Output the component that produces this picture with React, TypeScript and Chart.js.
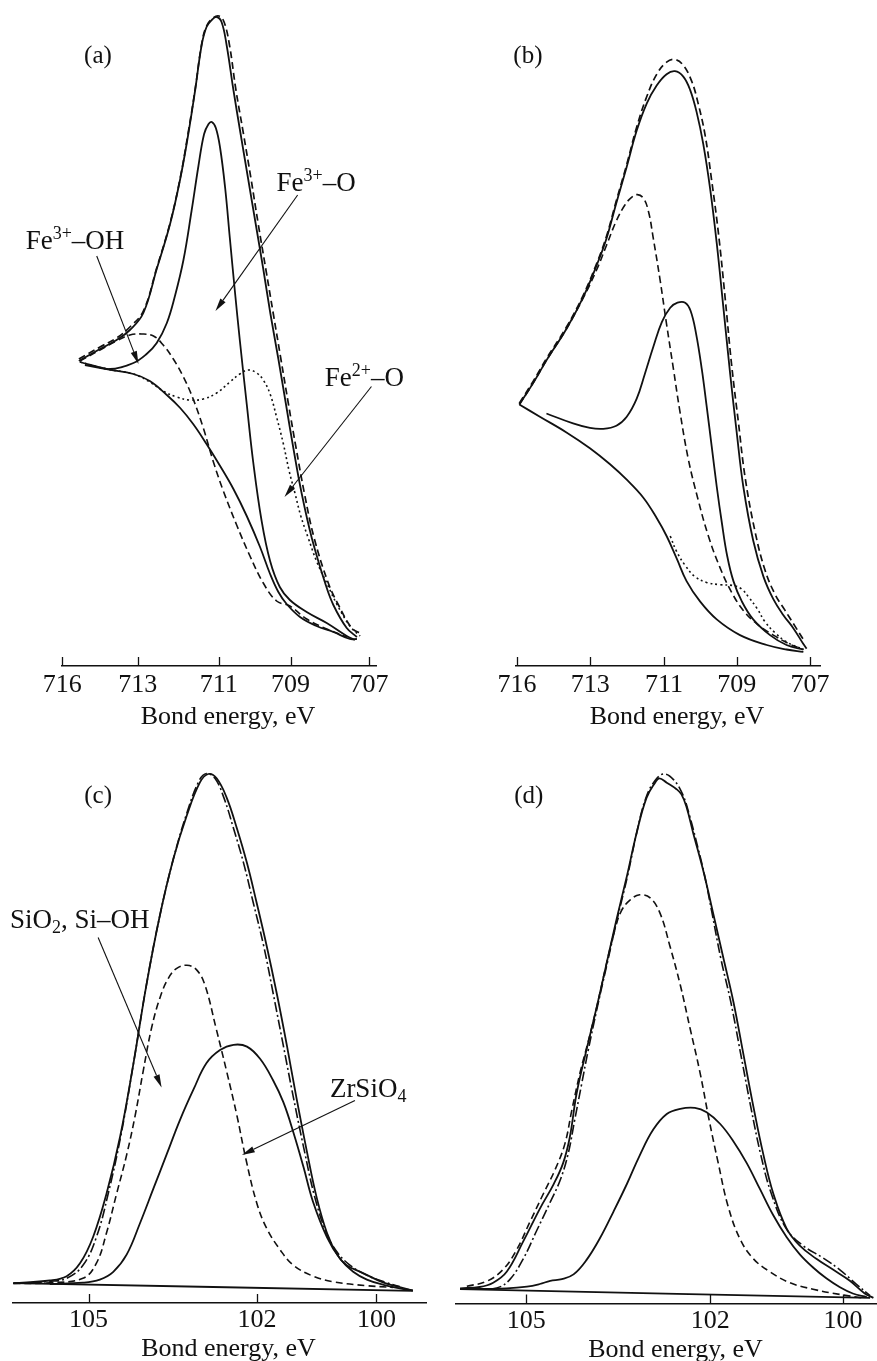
import React, { useEffect, useRef } from "react";
import { Chart, LineController, LineElement, PointElement, LinearScale } from "chart.js";

const FONT = '"Liberation Serif", "Times New Roman", "DejaVu Serif", serif';
const INK = "#111";

// ---------- Panel (a): Fe 2p, bond energy (eV) vs intensity (a.u.) ----------
const ticksA = [716, 713, 711, 709, 707];
const envA = [[715.34,30.5],[714.50,31.7],[713.84,32.6],[713.31,33.6],[712.86,35.3],[712.53,39.7],[712.20,44.2],[711.95,48.7],[711.75,53.2],[711.58,57.6],[711.42,62.1],[711.30,63.9],[711.17,64.6],[711.05,64.9],[710.92,64.4],[710.78,62.1],[710.59,57.6],[710.39,53.2],[710.18,48.7],[709.97,44.2],[709.76,39.7],[709.56,35.2],[709.34,30.7],[709.13,26.2],[708.93,21.8],[708.72,17.3],[708.46,12.8],[708.12,8.3],[707.91,6.1],[707.57,3.8],[707.31,2.9]];
const expA = [[715.34,30.7],[714.50,31.9],[713.84,32.8],[713.31,33.9],[712.86,35.5],[712.53,39.8],[712.20,44.3],[711.95,48.8],[711.75,53.4],[711.58,57.7],[711.42,62.2],[711.30,64.0],[711.14,64.8],[710.99,65.0],[710.85,64.4],[710.70,62.1],[710.52,57.6],[710.31,53.2],[710.10,48.7],[709.90,44.2],[709.69,39.7],[709.48,35.2],[709.27,30.7],[709.06,26.2],[708.86,21.8],[708.65,17.3],[708.40,12.8],[708.04,8.3],[707.78,6.1],[707.44,3.8],[707.19,3.2]];
const bgA = [[715.30,30.4],[714.24,29.7],[713.17,29.2],[712.70,28.5],[712.28,27.1],[711.95,25.8],[711.63,24.2],[711.30,22.2],[710.96,20.0],[710.59,17.7],[710.22,15.0],[709.85,11.9],[709.57,9.2],[709.34,7.4],[709.11,6.2],[708.76,4.9],[708.34,4.0],[707.91,3.4],[707.49,2.7],[707.31,2.7]];
const fe3oA = [[715.10,30.1],[714.10,29.7],[713.17,30.3],[712.78,31.2],[712.53,32.3],[712.28,34.3],[712.08,37.0],[711.87,40.6],[711.67,45.5],[711.50,50.0],[711.36,53.2],[711.25,54.2],[711.17,54.4],[711.07,53.8],[710.96,51.8],[710.82,47.8],[710.69,42.8],[710.55,37.5],[710.41,32.5],[710.22,26.2],[710.04,20.4],[709.81,14.6],[709.57,10.5],[709.30,7.9],[709.02,6.6],[708.59,5.4],[708.08,4.3],[707.57,3.0],[707.36,2.6]];
const fe3ohA = [[715.30,30.5],[714.50,31.6],[713.84,32.5],[713.31,33.1],[712.90,33.2],[712.61,33.0],[712.37,32.1],[712.12,30.7],[711.87,28.9],[711.63,26.7],[711.38,23.8],[711.13,20.4],[710.87,17.5],[710.50,14.1],[710.13,11.0],[709.76,8.3],[709.39,6.5],[709.02,6.0],[708.59,4.7],[708.08,3.7],[707.57,2.9]];
const fe2oA = [[715.30,30.4],[714.24,29.7],[713.17,29.2],[712.70,28.4],[712.37,27.5],[712.04,26.9],[711.71,26.6],[711.38,26.7],[711.05,27.3],[710.69,28.4],[710.41,29.2],[710.18,29.6],[709.94,29.3],[709.76,28.6],[709.57,27.2],[709.39,24.9],[709.20,22.2],[709.04,19.5],[708.89,17.3],[708.74,15.0],[708.55,12.8],[708.34,10.5],[708.08,8.3],[707.81,6.1],[707.49,4.0],[707.23,3.0]];
const notesA = [
  { parts: [["Fe", 0], ["3+", 1], ["–OH", 0]], at: [717.46, 41.7] },
  { parts: [["Fe", 0], ["3+", 1], ["–O", 0]], at: [709.39, 47.55] },
  { parts: [["Fe", 0], ["2+", 1], ["–O", 0]], at: [708.13, 28.0] },
];
const arrowsA = [[714.63, 41.0, 712.98, 30.2], [708.82, 47.1, 711.08, 35.5], [706.94, 27.95, 709.17, 16.9]];

// ---------- Panel (b) ----------
const ticksB = [716, 713, 711, 709, 707];
const envB = [[715.90,26.15],[715.33,28.31],[714.79,30.56],[713.97,33.72],[713.29,36.87],[712.83,40.02],[712.56,42.73],[712.29,46.33],[712.01,49.93],[711.74,53.54],[711.47,56.24],[711.20,58.04],[710.93,59.17],[710.70,59.48],[710.47,58.94],[710.28,57.59],[710.10,55.34],[709.92,52.19],[709.73,47.68],[709.55,42.28],[709.37,35.97],[709.18,29.21],[709.00,23.36],[708.82,17.95],[708.55,12.55],[708.27,8.94],[708.00,6.69],[707.73,5.11],[707.45,3.76],[707.18,2.19],[707.09,1.74]];
const expB = [[715.90,26.28],[715.33,28.49],[714.79,30.74],[713.97,33.9],[713.29,37.05],[712.83,40.2],[712.56,42.95],[712.29,46.55],[712.01,50.16],[711.74,53.9],[711.47,56.92],[711.20,59.17],[710.93,60.38],[710.70,60.65],[710.47,60.07],[710.24,58.49],[710.06,56.24],[709.87,53.09],[709.69,48.58],[709.50,43.18],[709.32,36.87],[709.14,30.11],[708.95,24.26],[708.77,18.85],[708.50,13.45],[708.23,9.62],[707.95,7.14],[707.68,5.56],[707.41,3.99],[707.14,2.41]];
const bgB = [[715.90,26.15],[715.06,24.93],[713.97,23.36],[713.01,21.78],[712.47,20.20],[712.01,18.63],[711.56,16.83],[711.20,14.80],[710.93,13.0],[710.65,10.74],[710.38,8.49],[710.01,6.46],[709.55,4.66],[708.91,3.09],[708.18,2.1],[707.64,1.65],[707.18,1.42]];
const fe3oB = [[714.79,25.25],[713.70,24.26],[713.01,23.81],[712.65,23.72],[712.29,24.03],[712.01,24.93],[711.74,26.74],[711.52,29.21],[711.29,31.92],[711.06,34.39],[710.83,35.83],[710.63,36.33],[710.42,36.33],[710.27,35.52],[710.12,33.27],[709.96,29.66],[709.83,26.06],[709.69,22.01],[709.55,17.95],[709.41,14.35],[709.26,10.97],[709.09,8.49],[708.86,6.46],[708.55,4.66],[708.09,3.09],[707.64,2.1],[707.18,1.65]];
const fe3ohB = [[715.90,26.15],[715.33,28.31],[714.79,30.56],[713.97,33.72],[713.29,36.78],[712.83,39.57],[712.56,42.05],[712.29,44.53],[712.06,46.1],[711.88,46.87],[711.72,47.14],[711.56,46.78],[711.42,45.43],[711.29,42.73],[711.11,38.67],[710.93,34.17],[710.74,29.66],[710.56,25.38],[710.33,20.65],[710.06,16.6],[709.78,13.0],[709.46,9.84],[709.14,7.37],[708.82,5.56],[708.45,4.21],[708.00,3.09],[707.55,2.19],[707.18,1.65]];
const fe2oB = [[710.83,13.0],[710.65,11.42],[710.42,10.07],[710.15,8.94],[709.83,8.36],[709.46,8.13],[709.09,8.04],[708.86,7.68],[708.68,6.92],[708.45,5.79],[708.23,4.44],[707.95,3.31],[707.64,2.41],[707.18,1.65]];

// ---------- Panel (c): Si 2p ----------
const ticksC = [105, 102, 100];
const envC = [[106.34,1.99],[105.69,2.25],[105.39,2.68],[105.15,3.99],[104.92,6.60],[104.68,10.95],[104.44,16.60],[104.20,23.99],[103.97,31.82],[103.73,38.77],[103.49,44.42],[103.25,48.77],[103.02,52.03],[102.87,52.90],[102.72,52.47],[102.54,50.51],[102.36,47.47],[102.18,43.99],[102.01,40.08],[101.84,35.73],[101.67,30.95],[101.50,25.73],[101.34,20.51],[101.17,15.29],[101.00,10.51],[100.83,7.03],[100.66,4.86],[100.50,3.77],[100.27,3.12],[99.88,2.03],[99.61,1.60],[99.39,1.25]];
const expC = [[106.34,1.95],[105.69,2.16],[105.39,2.47],[105.10,3.77],[104.86,6.60],[104.65,10.95],[104.43,16.60],[104.20,23.99],[103.97,31.82],[103.73,38.77],[103.49,44.42],[103.25,49.0],[103.03,52.25],[102.90,52.95],[102.75,52.47],[102.59,50.51],[102.42,47.47],[102.24,43.99],[102.07,40.08],[101.89,35.73],[101.73,30.95],[101.56,25.73],[101.39,20.51],[101.21,15.29],[101.03,10.51],[100.84,7.03],[100.66,5.10],[100.44,3.77],[100.16,2.77],[99.83,2.03],[99.61,1.65]];
const sioC = [[106.34,1.95],[105.69,2.03],[105.10,2.47],[104.86,3.99],[104.68,7.03],[104.50,10.95],[104.32,14.86],[104.17,18.77],[104.03,23.12],[103.88,27.47],[103.73,30.51],[103.58,32.47],[103.43,33.47],[103.25,33.77],[103.08,33.34],[102.93,31.82],[102.73,27.47],[102.54,23.12],[102.36,18.77],[102.20,14.42],[102.01,10.08],[101.84,7.47],[101.61,5.29],[101.39,3.77],[101.06,2.68],[100.72,2.12],[100.16,1.73],[99.72,1.56]];
const zrC = [[105.69,1.90],[105.10,2.03],[104.80,2.34],[104.56,3.12],[104.32,4.86],[104.09,7.90],[103.85,11.38],[103.61,14.86],[103.37,18.34],[103.13,21.38],[102.90,23.99],[102.66,25.29],[102.42,25.82],[102.18,25.64],[101.95,24.42],[101.73,22.25],[101.56,20.08],[101.39,17.03],[101.22,13.55],[101.06,10.08],[100.83,6.60],[100.61,4.42],[100.39,3.12],[100.16,2.34],[99.88,1.82],[99.61,1.47],[99.39,1.25]];
const bgC = [[106.34,1.99],[99.39,1.21]];
const notesC = [
  { parts: [["SiO", 0], ["2", -1], [", Si–OH", 0]], at: [106.40, 37.5] },
  { parts: [["ZrSiO", 0], ["4", -1]], at: [100.78, 20.6] },
];
const arrowsC = [[104.83, 36.55, 103.70, 21.55], [100.36, 20.24, 102.27, 14.8]];

// ---------- Panel (d) ----------
const ticksD = [105, 102, 100];
const envD = [[106.08,1.52],[105.76,1.65],[105.54,2.08],[105.32,3.17],[105.05,6.21],[104.78,9.47],[104.56,11.87],[104.40,14.04],[104.29,16.65],[104.18,21.00],[104.02,25.34],[103.85,29.69],[103.69,34.04],[103.53,38.39],[103.36,42.73],[103.20,47.08],[103.04,50.56],[102.90,52.08],[102.83,52.52],[102.71,52.08],[102.55,51.43],[102.47,50.91],[102.39,49.69],[102.28,47.08],[102.11,43.17],[101.95,38.82],[101.80,34.47],[101.65,30.13],[101.50,24.91],[101.35,19.69],[101.20,14.91],[101.05,11.00],[100.85,7.52],[100.65,5.78],[100.40,4.47],[100.15,3.39],[99.90,2.30],[99.67,1.00],[99.54,0.56]];
const expD = [[105.86,1.43],[105.48,1.56],[105.27,2.39],[105.05,4.47],[104.83,7.3],[104.61,10.13],[104.45,12.30],[104.32,14.91],[104.21,18.39],[104.10,21.87],[103.99,25.34],[103.84,29.69],[103.68,34.04],[103.52,38.39],[103.35,42.73],[103.20,47.08],[103.05,50.56],[102.90,52.30],[102.76,52.95],[102.60,52.39],[102.45,50.91],[102.34,48.82],[102.21,45.78],[102.09,42.73],[101.98,39.26],[101.84,34.47],[101.69,30.13],[101.54,24.91],[101.39,19.69],[101.24,14.91],[101.08,11.00],[100.85,7.43],[100.60,5.78],[100.30,4.56],[100.05,3.39],[99.80,1.95],[99.59,0.78]];
const sioD = [[105.97,1.73],[105.65,2.21],[105.38,3.39],[105.16,5.34],[104.94,8.17],[104.72,11.00],[104.53,13.39],[104.37,15.99],[104.26,19.26],[104.12,23.17],[103.99,26.21],[103.85,29.69],[103.69,34.04],[103.55,37.52],[103.45,39.26],[103.31,40.34],[103.15,40.87],[102.98,40.56],[102.82,39.04],[102.66,35.78],[102.49,31.87],[102.33,27.52],[102.17,23.17],[102.02,18.39],[101.88,14.04],[101.73,9.69],[101.55,6.43],[101.35,4.47],[101.10,3.17],[100.80,2.08],[100.45,1.43],[100.05,0.91],[99.70,0.56]];
const zrD = [[106.08,1.43],[105.32,1.52],[104.99,1.69],[104.78,1.95],[104.61,2.26],[104.42,2.43],[104.23,2.91],[104.02,4.34],[103.80,6.52],[103.58,9.17],[103.36,11.95],[103.15,14.82],[102.93,17.39],[102.71,18.95],[102.49,19.47],[102.25,19.56],[102.06,19.13],[101.85,17.95],[101.65,16.21],[101.45,14.04],[101.25,11.43],[101.05,8.82],[100.85,6.65],[100.65,4.91],[100.45,3.60],[100.25,2.52],[100.05,1.65],[99.85,1.00],[99.64,0.65]];
const bgD = [[106.08,1.43],[99.59,0.56]];

const X_TITLE = "Bond energy, eV";

// ---------- custom piecewise-linear axis (tick positions as drawn in the figure) ----------
class KnotScale extends LinearScale {
  static id = "knot";
  static defaults = {};
  decFor(v: number) {
    const vals = this.options.knotValues as number[];
    const fr = this.options.knotFracs as number[];
    let i = 0;
    const n = vals.length;
    const desc = vals[0] > vals[n - 1];
    while (i < n - 2 && (desc ? v < vals[i + 1] : v > vals[i + 1])) i++;
    const t = (v - vals[i]) / (vals[i + 1] - vals[i]);
    return fr[i] + t * (fr[i + 1] - fr[i]);
  }
  valFor(d: number) {
    const vals = this.options.knotValues as number[];
    const fr = this.options.knotFracs as number[];
    let i = 0;
    const n = fr.length;
    while (i < n - 2 && d > fr[i + 1]) i++;
    const t = (d - fr[i]) / (fr[i + 1] - fr[i]);
    return vals[i] + t * (vals[i + 1] - vals[i]);
  }
  determineDataLimits() {
    const a = this.valFor(0), b = this.valFor(1);
    this.min = Math.min(a, b);
    this.max = Math.max(a, b);
  }
  buildTicks() {
    return (this.options.tickValues as number[]).map((v) => ({ value: v }));
  }
  getPixelForValue(value: number) {
    if (value === null || value === undefined || isNaN(value)) return NaN;
    return this.getPixelForDecimal(this.decFor(value));
  }
  getValueForPixel(pixel: number) {
    return this.valFor(this.getDecimalForPixel(pixel));
  }
}

Chart.register(LineController, LineElement, PointElement, LinearScale, KnotScale);

type Style = "solid" | "dash" | "dot" | "dashdot";
const DASH: Record<Style, number[]> = { solid: [], dash: [7, 4], dot: [2, 3], dashdot: [10, 3, 2, 3] };

const panels = [
  {
    key: "a", box: { left: 0, top: 0, width: 438, height: 730 }, area: { left: 62, right: 376, bottom: 666 },
    tickPad: 4, titleDy: 58,
    ticks: ticksA, knotValues: ticksA, knotFracs: [0.001, 0.241, 0.499, 0.728, 0.978],
    letter: "(a)", letterAt: [714.58, 60.3],
    series: [[expA, "dash", 1.7], [envA, "solid", 1.8], [bgA, "solid", 1.8], [fe3oA, "solid", 1.8], [fe3ohA, "dash", 1.6], [fe2oA, "dot", 1.6]],
    notes: notesA, arrows: arrowsA,
  },
  {
    key: "b", box: { left: 438, top: 0, width: 439, height: 730 }, area: { left: 78, right: 382, bottom: 666 },
    tickPad: 4, titleDy: 58,
    ticks: ticksB, knotValues: ticksB, knotFracs: [0.003, 0.244, 0.487, 0.726, 0.967],
    letter: "(b)", letterAt: [715.55, 60.3],
    series: [[expB, "dash", 1.7], [envB, "solid", 1.8], [bgB, "solid", 1.8], [fe3oB, "solid", 1.8], [fe3ohB, "dash", 1.6], [fe2oB, "dot", 1.6]],
    notes: [], arrows: [],
  },
  {
    key: "c", box: { left: 0, top: 730, width: 438, height: 631 }, area: { left: 13, right: 426, bottom: 573 },
    tickPad: 2, titleDy: 53,
    ticks: ticksC, knotValues: ticksC, knotFracs: [0.183, 0.591, 0.880],
    letter: "(c)", letterAt: [104.83, 50.05],
    series: [[expC, "dashdot", 1.6], [envC, "solid", 1.8], [sioC, "dash", 1.6], [zrC, "solid", 1.8], [bgC, "solid", 1.8]],
    notes: notesC, arrows: arrowsC,
  },
  {
    key: "d", box: { left: 438, top: 730, width: 439, height: 631 }, area: { left: 18, right: 439, bottom: 573.5 },
    tickPad: 2, titleDy: 53,
    ticks: ticksD, knotValues: ticksD, knotFracs: [0.167, 0.604, 0.919],
    letter: "(d)", letterAt: [104.96, 50.1],
    series: [[expD, "dashdot", 1.6], [envD, "solid", 1.8], [sioD, "dash", 1.6], [zrD, "solid", 1.8], [bgD, "solid", 1.8]],
    notes: [], arrows: [],
  },
];

const TICK_SIZE = 26;
const TITLE_SIZE = 26;
const LETTER_SIZE = 25;
const NOTE_SIZE = 27;
const SCALE_H = 40;

function drawRich(ctx: CanvasRenderingContext2D, parts: any[], x: number, y: number, size: number) {
  let cx = x;
  for (const [txt, mode] of parts) {
    const s = mode === 0 ? size : Math.round(size * 0.68);
    ctx.font = `${s}px ${FONT}`;
    const dy = mode === 1 ? -size * 0.37 : mode === -1 ? size * 0.2 : 0;
    ctx.fillText(txt, cx, y + dy);
    cx += ctx.measureText(txt).width;
  }
}

function drawArrow(ctx: CanvasRenderingContext2D, x1: number, y1: number, x2: number, y2: number) {
  const a = Math.atan2(y2 - y1, x2 - x1);
  const L = 13, W = 3.2;
  const bx = x2 - L * Math.cos(a), by = y2 - L * Math.sin(a);
  ctx.lineWidth = 1.1;
  ctx.beginPath();
  ctx.moveTo(x1, y1);
  ctx.lineTo(bx, by);
  ctx.stroke();
  ctx.beginPath();
  ctx.moveTo(x2, y2);
  ctx.lineTo(bx - W * Math.sin(a), by + W * Math.cos(a));
  ctx.lineTo(bx + W * Math.sin(a), by - W * Math.cos(a));
  ctx.closePath();
  ctx.fill();
}

function makeDeco(p: any) {
  return {
    id: "deco_" + p.key,
    afterDraw(chart: any) {
      const { ctx, chartArea } = chart;
      const xs = chart.scales.x, ys = chart.scales.y;
      ctx.save();
      ctx.strokeStyle = INK;
      ctx.fillStyle = INK;
      ctx.setLineDash([]);
      ctx.lineWidth = 1.3;
      for (const t of xs.ticks) {
        const px = Math.round(xs.getPixelForValue(t.value)) + 0.5;
        ctx.beginPath();
        ctx.moveTo(px, chartArea.bottom);
        ctx.lineTo(px, chartArea.bottom - 9);
        ctx.stroke();
      }
      ctx.textBaseline = "alphabetic";
      ctx.textAlign = "center";
      ctx.font = `${TITLE_SIZE}px ${FONT}`;
      ctx.fillText(X_TITLE, (chartArea.left + chartArea.right) / 2 + 9, chartArea.bottom + p.titleDy);
      ctx.font = `${LETTER_SIZE}px ${FONT}`;
      ctx.fillText(p.letter, xs.getPixelForValue(p.letterAt[0]), ys.getPixelForValue(p.letterAt[1]));
      ctx.textAlign = "left";
      for (const n of p.notes) {
        drawRich(ctx, n.parts, xs.getPixelForValue(n.at[0]), ys.getPixelForValue(n.at[1]), NOTE_SIZE);
      }
      for (const [a, b, c, d] of p.arrows) {
        drawArrow(ctx, xs.getPixelForValue(a), ys.getPixelForValue(b), xs.getPixelForValue(c), ys.getPixelForValue(d));
      }
      ctx.restore();
    },
  };
}

function buildConfig(p: any): any {
  const yMax = p.area.bottom / 10;
  return {
    type: "line",
    data: {
      datasets: p.series.map(([pts, style, w]: any) => ({
        data: pts.map(([x, y]: number[]) => ({ x, y })),
        borderColor: INK,
        borderWidth: w,
        borderDash: DASH[style as Style],
        borderCapStyle: "butt",
        borderJoinStyle: "round",
        pointRadius: 0,
        tension: 0.4,
        fill: false,
        clip: false,
      })),
    },
    options: {
      animation: false,
      responsive: false,
      events: [],
      layout: {
        padding: {
          left: p.area.left,
          right: p.box.width - p.area.right,
          top: 0,
          bottom: p.box.height - p.area.bottom - SCALE_H,
        },
      },
      scales: {
        x: {
          type: "knot",
          knotValues: p.knotValues,
          knotFracs: p.knotFracs,
          tickValues: p.ticks,
          grid: { display: false, drawTicks: false },
          border: { display: true, color: INK, width: 1.4 },
          ticks: {
            color: INK,
            font: { family: FONT, size: TICK_SIZE },
            padding: p.tickPad,
            maxRotation: 0,
            autoSkip: false,
            callback: (v: number) => String(v),
          },
          afterFit: (s: any) => {
            s.height = SCALE_H;
            s.paddingLeft = 0;
            s.paddingRight = 0;
          },
        },
        y: { type: "linear", display: false, min: 0, max: yMax },
      },
    },
    plugins: [makeDeco(p)],
  };
}

function Panel({ p }: { p: any }) {
  const ref = useRef<HTMLCanvasElement | null>(null);
  useEffect(() => {
    const chart = new Chart(ref.current as HTMLCanvasElement, buildConfig(p));
    return () => chart.destroy();
  }, [p]);
  return (
    <canvas
      ref={ref}
      width={p.box.width}
      height={p.box.height}
      style={{ position: "absolute", left: p.box.left, top: p.box.top, width: p.box.width, height: p.box.height }}
    />
  );
}

export default function App() {
  return (
    <div style={{ position: "absolute", left: 0, top: 0, width: 877, height: 1361, background: "#fff", overflow: "hidden" }}>
      {panels.map((p) => (
        <Panel key={p.key} p={p} />
      ))}
    </div>
  );
}
